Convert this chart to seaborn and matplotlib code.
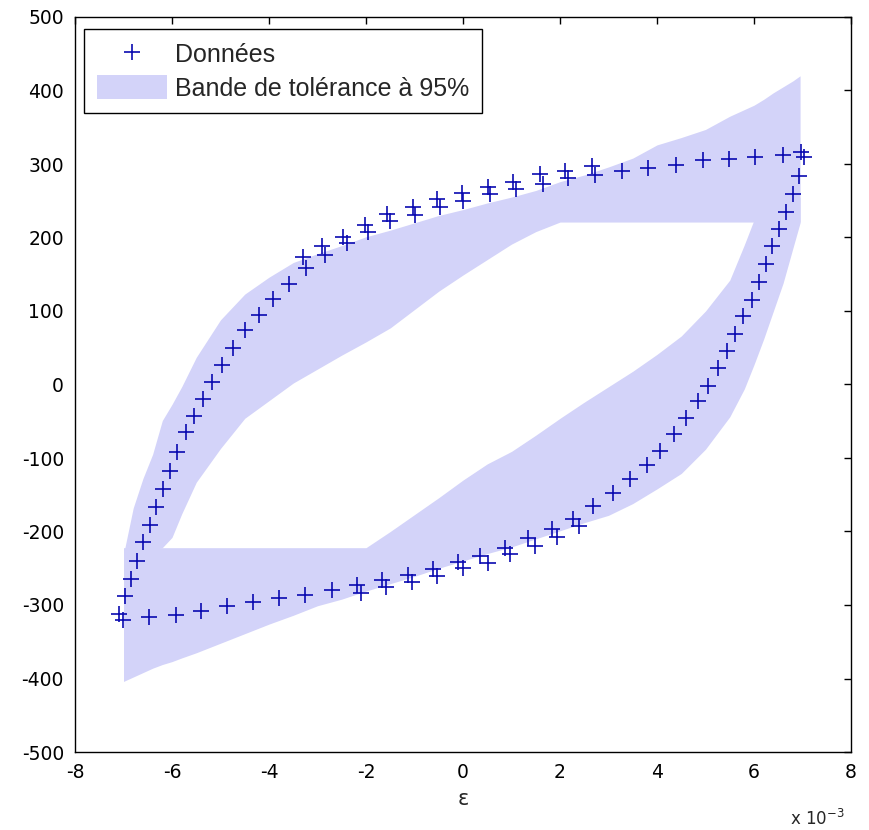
import matplotlib
matplotlib.use("Agg")
import matplotlib.pyplot as plt
import pandas as pd
import seaborn as sns
from matplotlib.lines import Line2D
from matplotlib.patches import Patch

# Measured hysteresis loop: strain (x 1e-3) and stress (MPa)
left_arm_strain = [-7.09, -7.01, -6.97, -6.85, -6.72, -6.59, -6.46, -6.32, -6.18, -6.04,
                   -5.89, -5.71, -5.55, -5.37, -5.18, -4.97, -4.74, -4.49, -4.21, -3.92,
                   -3.59, -3.24, -3.29]
left_arm_stress = [-312, -320, -288, -264, -240, -214, -191, -166, -142, -118,
                   -92, -64, -43, -20, 4, 26, 50, 74, 95, 116,
                   137, 158, 173]

top_strain = [-2.91, -2.47, -2.02, -1.56, -1.04, -0.54, -0.03, 0.51, 1.04, 1.59, 2.11, 2.66,
              -2.85, -2.40, -1.95, -1.51, -0.99, -0.47, 0.01, 0.55, 1.09, 1.64, 2.17, 2.72,
              3.27, 3.82, 4.39, 4.94, 5.48, 6.03, 6.59, 6.97, 7.04]
top_stress = [188, 201, 217, 232, 242, 252, 261, 269, 276, 286, 291, 297,
              176, 192, 208, 222, 231, 241, 249, 259, 266, 273, 281, 285,
              291, 295, 299, 305, 307, 310, 312, 316, 309]

right_arm_strain = [6.93, 6.80, 6.67, 6.52, 6.38, 6.24, 6.10, 5.95, 5.78, 5.61, 5.44,
                    5.26, 5.06, 4.84, 4.60, 4.35, 4.06, 3.79, 3.44, 3.09, 2.69]
right_arm_stress = [284, 259, 235, 212, 189, 164, 140, 115, 93, 69, 46,
                    22, -2, -23, -46, -68, -90, -110, -129, -148, -165]

bottom_strain = [2.27, 1.83, 1.35, 0.87, 0.35, -0.10, -0.62, -1.14, -1.67, -2.19,
                 2.40, 1.93, 1.49, 0.97, 0.51, -0.01, -0.54, -1.06, -1.58, -2.10,
                 -2.71, -3.25, -3.79, -4.32, -4.86, -5.40, -5.92, -6.48]
bottom_stress = [-183, -196, -209, -222, -234, -241, -251, -259, -266, -273,
                 -193, -207, -220, -231, -243, -250, -261, -269, -275, -283,
                 -280, -286, -291, -296, -302, -308, -313, -317]

# 95 % tolerance band: loading branch and unloading branch bounds
band_strain = [-7.0, -6.8, -6.6, -6.4, -6.2, -6.0, -5.8, -5.5, -5.0, -4.5, -4.0, -3.5,
               -3.0, -2.5, -2.0, -1.5, -1.0, -0.5, 0.0, 0.5, 1.0, 1.5, 2.0, 2.5,
               3.0, 3.5, 4.0, 4.5, 5.0, 5.5, 5.8, 6.0, 6.2, 6.4, 6.6, 6.8, 6.95]
load_upper = [-231, -168, -128, -95, -49, -27, -3, 37, 88, 123, 146, 166,
              178, 189, 201, 210, 220, 230, 238, 247, 255, 264, 276, 285,
              296, 308, 326, 336, 347, 365, 374, 380, 388, 397, 405, 413, 420]
load_lower = [-240, -235, -230, -225, -222, -208, -176, -133, -87, -46, -22, 2,
              21, 40, 58, 77, 102, 127, 149, 170, 191, 208, 221, 221,
              221, 221, 221, 221, 221, 221, 221, 221, 221, 221, 221, 221, 221]
unload_upper = [-222, -222, -222, -222, -222, -222, -222, -222, -222, -222, -222, -222,
                -222, -222, -222, -200, -177, -154, -130, -108, -91, -69, -46, -24,
                -3, 18, 41, 66, 100, 142, 190, 224, 232, 240, 246, 251, 255]
unload_lower = [-404, -398, -392, -386, -381, -377, -372, -365, -352, -339, -326, -314,
                -301, -292, -281, -271, -261, -250, -240, -230, -221, -210, -199, -188,
                -178, -162, -142, -121, -88, -44, -6, 27, 62, 100, 138, 185, 220]

x_ticks = [-8, -6, -4, -2, 0, 2, 4, 6, 8]
y_ticks = [-500, -400, -300, -200, -100, 0, 100, 200, 300, 400, 500]

band_color = "#d3d3f9"
point_color = "#0a0ab0"

sns.set_style("white")
plt.rcParams["font.family"] = ["DejaVu Sans"]
plt.rcParams["axes.unicode_minus"] = False

fig = plt.figure(figsize=(8.69, 8.30), dpi=100)
ax = fig.add_axes([75 / 869, 1 - 752 / 830, 776 / 869, 735 / 830])

ax.fill_between(band_strain, load_lower, load_upper, color=band_color, lw=0, zorder=1)
ax.fill_between(band_strain, unload_lower, unload_upper, color=band_color, lw=0, zorder=1)

points = pd.DataFrame({
    "strain": left_arm_strain + top_strain + right_arm_strain + bottom_strain,
    "stress": left_arm_stress + top_stress + right_arm_stress + bottom_stress,
})
sns.scatterplot(data=points, x="strain", y="stress", marker="+", color=point_color,
                s=135, linewidth=1.2, ax=ax, zorder=3, legend=False)

ax.set_xlim(-8, 8)
ax.set_ylim(-500, 500)
ax.set_xticks(x_ticks)
ax.set_yticks(y_ticks)
ax.set_xticklabels([str(t) for t in x_ticks])
ax.set_yticklabels([str(t) for t in y_ticks])
ax.tick_params(direction="in", length=5, width=1, top=True, right=True,
               labelsize=13.5, pad=8, colors="black")
for sp in ax.spines.values():
    sp.set_color("black")
    sp.set_linewidth(1.0)

ax.set_xlabel("ε", fontsize=15, labelpad=5)
ax.set_ylabel("σ (MPa)", fontsize=13)
ax.yaxis.set_label_coords(-0.095, 0.5)
ax.text((790 - 75) / 776, (752 - 825) / 735, "x 10$^{-3}$", transform=ax.transAxes,
        fontsize=12, ha="left", va="baseline")

handles = [
    Line2D([], [], marker="+", ls="", color=point_color, markersize=11.5, mew=1.2),
    Patch(facecolor=band_color, edgecolor="none"),
]
leg = ax.legend(handles, ["Données", "Bande de tolérance à 95%"], loc="upper left",
                bbox_to_anchor=(9 / 776, 1 - 12 / 735), borderaxespad=0,
                prop={"family": "Liberation Sans", "size": 18}, frameon=True,
                fancybox=False, framealpha=1, edgecolor="black",
                handlelength=2.8, handleheight=1.05, handletextpad=0.35,
                labelspacing=0.35, borderpad=0.5)
leg.get_frame().set_linewidth(1.0)

fig.savefig("out.png", dpi=100)
